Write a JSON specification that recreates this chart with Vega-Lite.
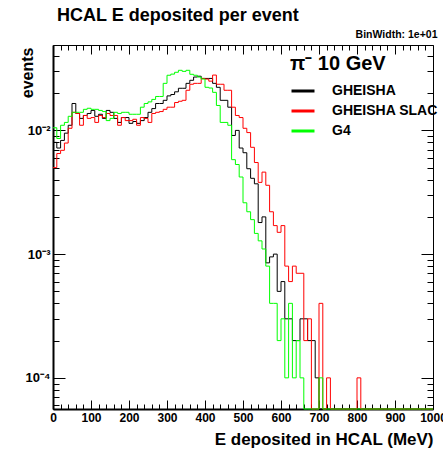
{
  "$schema": "https://vega.github.io/schema/vega-lite/v6.json",
  "width": 380,
  "height": 364,
  "autosize": {"type": "none"},
  "padding": {"left": 53, "top": 45, "right": 10, "bottom": 44},
  "background": "white",
  "config": {
    "view": {"stroke": "#000", "strokeWidth": 1},
    "font": "Liberation Sans",
    "axis": {"grid": false, "domainColor": "#000", "tickColor": "#000", "labelColor": "#000", "titleColor": "#000", "labelFont": "Liberation Sans", "titleFont": "Liberation Sans", "labelFontWeight": "bold", "titleFontWeight": "bold", "labelOverlap": false, "labelBound": false}
  },
  "title": {"text": "HCAL E deposited per event", "anchor": "start", "frame": "group", "dx": 4, "offset": 4, "fontSize": 18, "font": "Liberation Sans", "fontWeight": "bold", "color": "#000"},
  "data": {"values": [
    {"E":0,"gheisha":0.0080,"slac":0.0050,"g4":0.0105},
    {"E":10,"gheisha":0.0072,"slac":0.0065,"g4":0.0086},
    {"E":20,"gheisha":0.0083,"slac":0.0069,"g4":0.0110},
    {"E":30,"gheisha":0.0095,"slac":0.0079,"g4":0.0116},
    {"E":40,"gheisha":0.0110,"slac":0.0104,"g4":0.0130},
    {"E":50,"gheisha":0.0165,"slac":0.0140,"g4":0.0140},
    {"E":60,"gheisha":0.0137,"slac":0.0137,"g4":0.0140},
    {"E":70,"gheisha":0.0125,"slac":0.0110,"g4":0.0140},
    {"E":80,"gheisha":0.0132,"slac":0.0132,"g4":0.0148},
    {"E":90,"gheisha":0.0137,"slac":0.0125,"g4":0.0151},
    {"E":100,"gheisha":0.0145,"slac":0.0127,"g4":0.0148},
    {"E":110,"gheisha":0.0130,"slac":0.0116,"g4":0.0148},
    {"E":120,"gheisha":0.0135,"slac":0.0132,"g4":0.0145},
    {"E":130,"gheisha":0.0125,"slac":0.0127,"g4":0.0142},
    {"E":140,"gheisha":0.0145,"slac":0.0137,"g4":0.0120},
    {"E":150,"gheisha":0.0140,"slac":0.0132,"g4":0.0125},
    {"E":160,"gheisha":0.0125,"slac":0.0132,"g4":0.0140},
    {"E":170,"gheisha":0.0116,"slac":0.0110,"g4":0.0137},
    {"E":180,"gheisha":0.0127,"slac":0.0127,"g4":0.0140},
    {"E":190,"gheisha":0.0127,"slac":0.0120,"g4":0.0140},
    {"E":200,"gheisha":0.0114,"slac":0.0120,"g4":0.0135},
    {"E":210,"gheisha":0.0118,"slac":0.0123,"g4":0.0135},
    {"E":220,"gheisha":0.0114,"slac":0.0110,"g4":0.0135},
    {"E":230,"gheisha":0.0120,"slac":0.0127,"g4":0.0154},
    {"E":240,"gheisha":0.0127,"slac":0.0125,"g4":0.0165},
    {"E":250,"gheisha":0.0140,"slac":0.0116,"g4":0.0170},
    {"E":260,"gheisha":0.0150,"slac":0.0137,"g4":0.0178},
    {"E":270,"gheisha":0.0165,"slac":0.0140,"g4":0.0188},
    {"E":280,"gheisha":0.0165,"slac":0.0142,"g4":0.0188},
    {"E":290,"gheisha":0.0175,"slac":0.0148,"g4":0.0240},
    {"E":300,"gheisha":0.0190,"slac":0.0154,"g4":0.0279},
    {"E":310,"gheisha":0.0195,"slac":0.0154,"g4":0.0285},
    {"E":320,"gheisha":0.0205,"slac":0.0168,"g4":0.0295},
    {"E":330,"gheisha":0.0219,"slac":0.0172,"g4":0.0306},
    {"E":340,"gheisha":0.0219,"slac":0.0175,"g4":0.0300},
    {"E":350,"gheisha":0.0240,"slac":0.0211,"g4":0.0306},
    {"E":360,"gheisha":0.0254,"slac":0.0236,"g4":0.0284},
    {"E":370,"gheisha":0.0270,"slac":0.0240,"g4":0.0279},
    {"E":380,"gheisha":0.0274,"slac":0.0240,"g4":0.0270},
    {"E":390,"gheisha":0.0263,"slac":0.0263,"g4":0.0260},
    {"E":400,"gheisha":0.0263,"slac":0.0260,"g4":0.0223},
    {"E":410,"gheisha":0.0263,"slac":0.0250,"g4":0.0220},
    {"E":420,"gheisha":0.0240,"slac":0.0280,"g4":0.0203},
    {"E":430,"gheisha":0.0223,"slac":0.0236,"g4":0.0159},
    {"E":440,"gheisha":0.0175,"slac":0.0236,"g4":0.0116},
    {"E":450,"gheisha":0.0175,"slac":0.0211,"g4":0.0116},
    {"E":460,"gheisha":0.0154,"slac":0.0211,"g4":0.0110},
    {"E":470,"gheisha":0.0091,"slac":0.0154,"g4":0.0058},
    {"E":480,"gheisha":0.0100,"slac":0.0132,"g4":0.0053},
    {"E":490,"gheisha":0.0072,"slac":0.0127,"g4":0.0042},
    {"E":500,"gheisha":0.0066,"slac":0.0104,"g4":0.0026},
    {"E":510,"gheisha":0.0049,"slac":0.0096,"g4":0.0022},
    {"E":520,"gheisha":0.0041,"slac":0.0073,"g4":0.0019},
    {"E":530,"gheisha":0.0037,"slac":0.0055,"g4":0.00147},
    {"E":540,"gheisha":0.0018,"slac":0.0038,"g4":0.00128},
    {"E":550,"gheisha":0.0020,"slac":0.0046,"g4":0.0011},
    {"E":560,"gheisha":0.00085,"slac":0.0036,"g4":0.0008},
    {"E":570,"gheisha":0.00095,"slac":0.0022,"g4":0.0004},
    {"E":580,"gheisha":0.0010,"slac":0.0017,"g4":0.0004},
    {"E":590,"gheisha":0.0005,"slac":0.0015,"g4":0.0002},
    {"E":600,"gheisha":0.0006,"slac":0.0017,"g4":0.0003},
    {"E":610,"gheisha":0.0003,"slac":0.0008,"g4":0.0001},
    {"E":620,"gheisha":0.0003,"slac":0.0006,"g4":0.0004},
    {"E":630,"gheisha":0.0002,"slac":0.0008,"g4":0.0001},
    {"E":640,"gheisha":0.0002,"slac":0.0007,"g4":0.0002},
    {"E":650,"gheisha":0.0003,"slac":0.0007,"g4":0.0001},
    {"E":660,"gheisha":0.0003,"slac":0.0002,"g4":0},
    {"E":670,"gheisha":0.0002,"slac":0.0003,"g4":0},
    {"E":680,"gheisha":0.0002,"slac":0,"g4":0},
    {"E":690,"gheisha":0.0001,"slac":0,"g4":0},
    {"E":700,"gheisha":0,"slac":0.0004,"g4":0.0001},
    {"E":710,"gheisha":0,"slac":0,"g4":0},
    {"E":720,"gheisha":0,"slac":0.0001,"g4":0},
    {"E":730,"gheisha":0,"slac":0,"g4":0},
    {"E":740,"gheisha":0,"slac":0,"g4":0},
    {"E":750,"gheisha":0,"slac":0,"g4":0},
    {"E":760,"gheisha":0,"slac":0,"g4":0},
    {"E":770,"gheisha":0,"slac":0,"g4":0},
    {"E":780,"gheisha":0,"slac":0,"g4":0},
    {"E":790,"gheisha":0,"slac":0,"g4":0},
    {"E":800,"gheisha":0,"slac":0.0001,"g4":0},
    {"E":810,"gheisha":0,"slac":0,"g4":0},
    {"E":820,"gheisha":0,"slac":0,"g4":0},
    {"E":830,"gheisha":0,"slac":0,"g4":0},
    {"E":840,"gheisha":0,"slac":0,"g4":0},
    {"E":850,"gheisha":0,"slac":0,"g4":0},
    {"E":860,"gheisha":0,"slac":0,"g4":0},
    {"E":870,"gheisha":0,"slac":0,"g4":0},
    {"E":880,"gheisha":0,"slac":0,"g4":0},
    {"E":890,"gheisha":0,"slac":0,"g4":0},
    {"E":900,"gheisha":0,"slac":0,"g4":0},
    {"E":910,"gheisha":0,"slac":0,"g4":0},
    {"E":920,"gheisha":0,"slac":0,"g4":0},
    {"E":930,"gheisha":0,"slac":0,"g4":0},
    {"E":940,"gheisha":0,"slac":0,"g4":0},
    {"E":950,"gheisha":0,"slac":0,"g4":0},
    {"E":960,"gheisha":0,"slac":0,"g4":0},
    {"E":970,"gheisha":0,"slac":0,"g4":0},
    {"E":980,"gheisha":0,"slac":0,"g4":0},
    {"E":990,"gheisha":0,"slac":0,"g4":0},
    {"E":1000,"gheisha":0,"slac":0,"g4":0}
  ]},
  "layer": [
    {
      "mark": {"type": "line", "interpolate": "step-after", "strokeWidth": 1, "invalid": "show"},
      "encoding": {
        "x": {"field": "E", "type": "quantitative", "scale": {"domain": [0, 1000], "nice": false, "zero": false},
          "axis": {"orient": "bottom", "values": [0,100,200,300,400,500,600,700,800,900,1000], "format": "d", "tickCount": 11, "tickSize": -9, "labelFontSize": 12, "labelPadding": 12, "labelFlush": false, "labelOverlap": false, "labelBound": false, "labelSeparation": 0, "domainWidth": 2, "title": "E deposited in HCAL (MeV)", "titleFontSize": 17, "titleAnchor": "end", "titleY": 35, "titleBaseline": "alphabetic"}},
        "y": {"field": "gheisha", "type": "quantitative", "scale": {"type": "log", "domain": [0.000056, 0.049], "nice": false, "clamp": true},
          "axis": {"orient": "left", "values": [0.0001, 0.001, 0.01], "tickSize": -12, "labelFontSize": 13, "labelPadding": 15, "labelOverlap": false, "labelExpr": "datum.value == 0.01 ? '10⁻²' : datum.value == 0.001 ? '10⁻³' : '10⁻⁴'", "domainWidth": 2, "title": "events", "titleFontSize": 16, "titleAnchor": "end", "titleAngle": -90, "titleAlign": "right", "titleBaseline": "alphabetic", "titleX": -21, "titleY": 2}},
        "color": {"datum": "GHEISHA", "type": "nominal", "scale": {"domain": ["GHEISHA", "GHEISHA SLAC", "G4"], "range": ["#000000", "#ff0000", "#00ff00"]},
          "legend": {"orient": "none", "legendX": 237, "legendY": 9, "title": "π⁻ 10 GeV", "titleFontSize": 20, "titleFont": "Liberation Sans", "titleFontWeight": "bold", "titleColor": "#000", "titlePadding": 4, "symbolType": "stroke", "symbolSize": 529, "symbolStrokeWidth": 3, "labelFontSize": 14, "labelFont": "Liberation Sans", "labelFontWeight": "bold", "labelColor": "#000", "labelOffset": 16, "rowPadding": 0, "padding": 0, "labelLimit": 0}}
      }
    },
    {
      "mark": {"type": "line", "interpolate": "step-after", "strokeWidth": 1, "invalid": "show"},
      "encoding": {
        "x": {"field": "E", "type": "quantitative", "axis": null},
        "y": {"field": "slac", "type": "quantitative", "axis": null},
        "color": {"datum": "GHEISHA SLAC", "type": "nominal"}
      }
    },
    {
      "mark": {"type": "line", "interpolate": "step-after", "strokeWidth": 1, "invalid": "show"},
      "encoding": {
        "x": {"field": "E", "type": "quantitative", "axis": null},
        "y": {"field": "g4", "type": "quantitative", "axis": null},
        "color": {"datum": "G4", "type": "nominal"}
      }
    },
    {
      "mark": {"type": "line", "opacity": 0, "invalid": "show"},
      "encoding": {
        "x": {"field": "E", "type": "quantitative", "axis": {"orient": "bottom", "values": [20,40,60,80,120,140,160,180,220,240,260,280,320,340,360,380,420,440,460,480,520,540,560,580,620,640,660,680,720,740,760,780,820,840,860,880,920,940,960,980], "tickSize": -5, "labels": false, "domain": false, "title": null}},
        "y": {"field": "gheisha", "type": "quantitative", "axis": {"orient": "left", "values": [0.00006,0.00007,0.00008,0.00009,0.0002,0.0003,0.0004,0.0005,0.0006,0.0007,0.0008,0.0009,0.002,0.003,0.004,0.005,0.006,0.007,0.008,0.009,0.02,0.03,0.04], "tickSize": -6, "labels": false, "domain": false, "title": null}}
      }
    },
    {
      "mark": {"type": "line", "opacity": 0, "invalid": "show"},
      "encoding": {
        "x": {"field": "E", "type": "quantitative", "axis": {"orient": "top", "values": [0,100,200,300,400,500,600,700,800,900,1000], "tickSize": -9, "labels": false, "domain": false, "title": "BinWidth: 1e+01", "titleFontSize": 10.5, "titleX": 384, "titleY": -8, "titleAlign": "right", "titleBaseline": "alphabetic"}},
        "y": {"field": "gheisha", "type": "quantitative", "axis": {"orient": "right", "values": [0.0001, 0.001, 0.01], "tickSize": -12, "labels": false, "domain": false, "title": null}}
      }
    },
    {
      "mark": {"type": "line", "opacity": 0, "invalid": "show"},
      "encoding": {
        "x": {"field": "E", "type": "quantitative", "axis": {"orient": "top", "values": [20,40,60,80,120,140,160,180,220,240,260,280,320,340,360,380,420,440,460,480,520,540,560,580,620,640,660,680,720,740,760,780,820,840,860,880,920,940,960,980], "tickSize": -5, "labels": false, "domain": false, "title": null}},
        "y": {"field": "gheisha", "type": "quantitative", "axis": {"orient": "right", "values": [0.00006,0.00007,0.00008,0.00009,0.0002,0.0003,0.0004,0.0005,0.0006,0.0007,0.0008,0.0009,0.002,0.003,0.004,0.005,0.006,0.007,0.008,0.009,0.02,0.03,0.04], "tickSize": -6, "labels": false, "domain": false, "title": null}}
      }
    }
  ],
  "resolve": {"axis": {"x": "independent", "y": "independent"}}
}
